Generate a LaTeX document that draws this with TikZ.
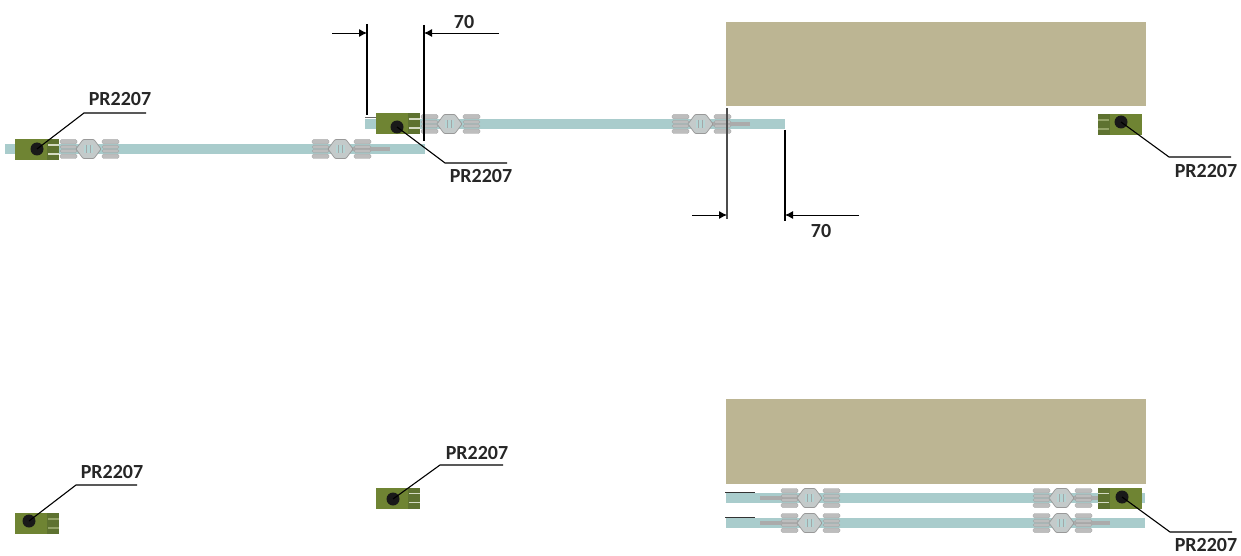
\documentclass[tikz,border=0pt]{standalone}
\usepackage{fontspec}
\setmainfont{Carlito}
\usetikzlibrary{arrows.meta}
\definecolor{railblue}{HTML}{A9CCCC}
\definecolor{walltan}{HTML}{BCB593}
\definecolor{blockgreen}{HTML}{6F8433}
\definecolor{prongdark}{HTML}{5E7230}
\definecolor{padgray}{HTML}{BDBDBD}
\definecolor{hubgray}{HTML}{C4CACA}
\tikzstyle{rail}=[fill=railblue,draw=none]
\tikzstyle{wall}=[fill=walltan,draw=none]
\tikzstyle{greenblock}=[rectangle,fill=blockgreen,draw=none,minimum width=44pt,minimum height=21pt,inner sep=0pt]
\tikzstyle{smalldot}=[circle,fill=black!90,draw=none,minimum size=13pt,inner sep=0pt]
\tikzstyle{pad}=[fill=padgray,draw=black!40,line width=0.3pt,rounded corners=1.5pt]
\tikzstyle{rod}=[fill=black!33,draw=none]
\tikzstyle{leader}=[draw,line width=1.1pt]
\tikzstyle{tag}=[font=\bfseries\fontsize{20}{20}\selectfont,inner sep=0pt,text=black!85]
\tikzstyle{dimline}=[draw,line width=1.2pt]
\tikzstyle{dimarrow}=[draw,line width=0.9pt,-{Latex[length=8pt,width=8pt]}]
\tikzset{
  pics/carriage/.style={code={
    \foreach \px in {-28,14}{
      \path[pad] (\px,-3.5) rectangle +(17,3);
      \path[pad] (\px,0.5) rectangle +(17,3);
      \path[pad] (\px,-9.5) rectangle +(17,4.5);
      \path[pad] (\px,5) rectangle +(17,4.5);
    }
    \path[fill=hubgray,draw=black!40,line width=0.7pt,rounded corners=1pt] (-12,0) -- (-5,-9.5) -- (6,-9.5) -- (13,0) -- (6,9.5) -- (-5,9.5) -- cycle;
    \fill[railblue!85!white] (-4,-4) rectangle (5,4);
    \draw[black!35,line width=0.5pt] (-1.5,-4) -- (-1.5,4) (2.5,-4) -- (2.5,4);
  }}
}

\begin{document}
\begin{tikzpicture}[x=1pt,y=-1pt]

  \useasboundingbox (0,0) rectangle (1241,556);

  % walls and rails
  \foreach \ya/\yb in {22/106, 399/484}
        \path[wall] (726,\ya) rectangle (1146,\yb);

  \foreach \xa/\xb/\y in {5/425/149, 365/785/124, 726/1145/498, 726/1145/523}
        \path[rail] (\xa,\y-5) rectangle (\xb,\y+5);

  % rods under the carriages
  \foreach \xa/\xb/\y in {340/390/149, 700/750/124, 760/809/498, 760/809/523, 1061/1110/523, 1061/1110/498}
        \path[rod] (\xa,\y-2) rectangle (\xb,\y+2);

  \foreach \x/\y in {88/149, 340/149, 449/124, 700/124, 809/498, 809/523, 1061/498, 1061/523}
        \pic at (\x,\y) {carriage};

  % short stubs
  \draw[line width=1pt,black!60] (365,117.5) -- (376,117.5);
  \draw[line width=1pt,black!80] (725,492) -- (755,492);
  \draw[line width=1pt,black!80] (725,517) -- (755,517);

  % blocks, dots, leaders and tags
  \foreach \x/\y/\s/\mix/\dx/\dy/\ex/\ey/\fx/\lx/\ly/\name in {
      37/149.5/1/70/37/149/84/113/146/120/99/A,
      397.5/123.5/1/70/397/127/445/163/507/481/176/B,
      1120/124.5/-1/25/1121/122/1169/157/1231/1206/171/C,
      37/523.5/1/25/29/521/76/485/137/112/472/D,
      398/498/1/70/393/499/440/465/503/477/453/E,
      1120/498/-1/70/1122/497/1170/532/1232/1206/545/F}
  {
    \node[greenblock] (block\name) at (\x,\y) {};
    \fill[prongdark] (\x+\s*10,\y-10.5) rectangle (\x+\s*22,\y+10.5);
    \draw[white!\mix!blockgreen,line width=1.2pt] (\x+\s*11,\y-4.5) -- (\x+\s*22,\y-4.5);
    \draw[white!\mix!blockgreen,line width=1.2pt] (\x+\s*11,\y+4.5) -- (\x+\s*22,\y+4.5);
    \node[smalldot] (dot\name) at (\dx,\dy) {};
    \coordinate (elbow\name) at (\ex,\ey);
    \coordinate (end\name) at (\fx,\ey);
    \path[leader] (dot\name.center) -- (elbow\name) -- (end\name);
    \node[tag] (tag\name) at (\lx,\ly) {PR2207};
  }

  % dimension at the top
  \coordinate (topA) at (367,24);
  \coordinate (footA) at (367,115);
  \coordinate (topB) at (424,25);
  \coordinate (footB) at (424,141);
  \coordinate (tailA) at (332,33);
  \coordinate (headA) at (367,33);
  \coordinate (tailB) at (499,33);
  \coordinate (headB) at (424,33);
  \path[dimline] (topA) -- (footA);
  \path[dimline] (topB) -- (footB);
  \path[dimarrow] (tailA) -- (headA);
  \path[dimarrow] (tailB) -- (headB);
  \node[tag] (dimtop) at (464,22) {70};

  % dimension at the wall
  \coordinate (topC) at (727,108);
  \coordinate (footC) at (727,219);
  \coordinate (topD) at (785,130);
  \coordinate (footD) at (785,221);
  \coordinate (tailC) at (692,215);
  \coordinate (headC) at (727,215);
  \coordinate (tailD) at (859,215);
  \coordinate (headD) at (785,215);
  \path[dimline,black!70] (topC) -- (footC);
  \path[dimline] (topD) -- (footD);
  \path[dimarrow] (tailC) -- (headC);
  \path[dimarrow] (tailD) -- (headD);
  \node[tag] (dimwall) at (821,231) {70};

\end{tikzpicture}
\end{document}
